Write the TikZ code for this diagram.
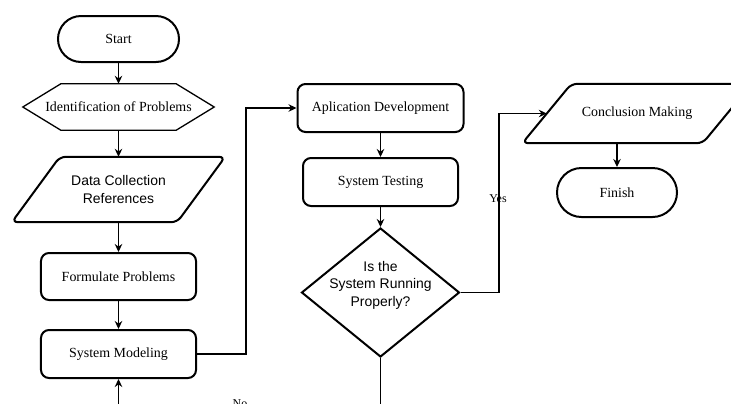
\documentclass[tikz,border=0pt]{standalone}
\usepackage{fontspec}
\setmainfont{Liberation Serif}
\newfontfamily\sansf{Liberation Sans}
\usetikzlibrary{shapes.geometric,shapes.misc,arrows.meta,calc}
\begin{document}
\begin{tikzpicture}[x=1bp,y=-1bp,
  serif14/.style={font=\fontsize{14}{16}\selectfont},
  box/.style={draw, line width=2bp, rounded corners=8bp, minimum height=48bp, inner sep=0, serif14},
  term/.style={draw, line width=2bp, rounded rectangle, inner sep=0, serif14},
  plain/.style={inner sep=0, serif14},
  sanstxt/.style={inner sep=0, align=center, font=\sansf\fontsize{14}{17.5}\selectfont},
  dia/.style={draw, diamond, line width=2bp, minimum width=158bp, minimum height=129bp, inner sep=0},
  outline/.style={line width=2bp, rounded corners=6bp},
  conn/.style={line width=1.2bp},
  arr/.style={conn, -{Stealth[length=8bp,width=7.5bp]}},
  lbl/.style={inner sep=0, font=\fontsize{12}{14}\selectfont}
]
\useasboundingbox (0,0) rectangle (731,403);
\clip (0,0) rectangle (731,403);

% left column
\node[term, minimum width=121bp, minimum height=46bp] (start) at (118.5,39) {Start};
\node[plain, minimum width=191bp, minimum height=46bp] (hx) at (118.5,107) {Identification of Problems};
\draw[line width=1.3bp] (hx.west) -- ($(hx.north west)+(38,0)$) -- ($(hx.north east)+(-38,0)$) -- (hx.east)
  -- ($(hx.south east)+(-38,0)$) -- ($(hx.south west)+(38,0)$) -- cycle;
\node[sanstxt, minimum width=165bp, minimum height=65bp] (dc) at (118.5,189.5) {Data Collection\\References};
\draw[outline] (dc.south) -- ($(dc.south west)+(-24,0)$) -- ($(dc.north west)+(24,0)$)
  -- ($(dc.north east)+(24,0)$) -- ($(dc.south east)+(-24,0)$) -- (dc.south);
\node[box, minimum width=155bp, minimum height=47bp] (fp) at (118.5,276.5) {Formulate Problems};
\node[box, minimum width=155bp] (sm) at (118.5,354) {System Modeling};

% middle column
\node[box, minimum width=166bp] (ad) at (380.5,108) {Aplication Development};
\node[box, minimum width=155bp] (tst) at (380.5,182) {System Testing};
\node[dia] (dm) at (380.5,292.5) {};
\node[sanstxt] (dmt) at (380.5,285) {Is the\\System Running\\Properly?};

% right column
\node[plain, minimum width=180bp, minimum height=59bp] (cm) at (637,113.5) {Conclusion Making};
\draw[outline] (cm.south) -- ($(cm.south west)+(-24.5,0)$) -- ($(cm.north west)+(24.5,0)$)
  -- ($(cm.north east)+(24.5,0)$) -- ($(cm.south east)+(-24.5,0)$) -- (cm.south);
\node[term, minimum width=120bp, minimum height=49bp] (fin) at (617,192.5) {Finish};

% helper coordinates
\coordinate (mx) at (246,0);
\coordinate (yx) at (499,0);

% connectors
\draw[arr] (start.south) -- (hx.north);
\draw[arr] (hx.south) -- (dc.north);
\draw[arr] (dc.south) -- (fp.north);
\draw[arr] (fp.south) -- (sm.north);
\draw[arr] (sm.east) -- (sm.east -| mx) -- (mx |- ad.west) -- (ad.west);
\draw[arr] (ad.south) -- (tst.north);
\draw[arr] (tst.south) -- (dm.north);
\draw[arr] (dm.east) -- (dm.east -| yx) -- (yx |- cm.west) -- (cm.west);
\draw[arr] (fin.north |- cm.south) -- (fin.north);
\draw[arr] (dm.south) -- ++(0,80) -| (sm.south);

% labels
\node[lbl] (yes) at (498,199) {Yes};
\node[lbl, anchor=base] (no) at (240,407) {No};
\end{tikzpicture}
\end{document}
